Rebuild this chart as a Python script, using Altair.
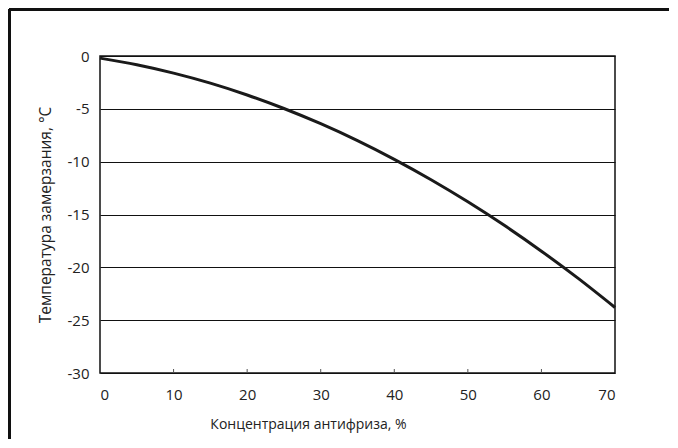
import altair as alt
import pandas as pd

# Freezing point curve
concentration = [0, 5, 10, 15, 20, 25, 30, 35, 40, 45, 50, 55, 60, 65, 70]
freeze_temp = [-0.2, -0.83, -1.62, -2.57, -3.69, -4.97, -6.41, -8.01, -9.78, -11.71, -13.8, -16.05, -18.47, -21.05, -23.8]

x_ticks = [0, 10, 20, 30, 40, 50, 60, 70]
inner_ticks = [10, 20, 30, 40, 50, 60]
y_ticks = [0, -5, -10, -15, -20, -25, -30]

x_title = "Концентрация антифриза, %"
y_title = "Температура замерзания, °C"

W, H = 515, 317
PAD = {"left": 92, "top": 48, "right": 54, "bottom": 66}
FONT = "Open Sans"

df = pd.DataFrame({"c": concentration, "t": freeze_temp})
tick_df = pd.DataFrame({"c": inner_ticks})

x_scale = alt.Scale(domain=[0, 70], nice=False)
y_scale = alt.Scale(domain=[-30, 0], nice=False)

line = alt.Chart(df).mark_line(
    color="#1a1a1a", strokeWidth=3, interpolate="monotone"
).encode(
    x=alt.X("c:Q", scale=x_scale,
            axis=alt.Axis(values=x_ticks, title=x_title, grid=False, ticks=False,
                          domain=False, labelPadding=14, titlePadding=15,
                          labelFontSize=15, titleFontSize=14, labelFont=FONT,
                          titleFont=FONT, labelColor="#222", titleColor="#222",
                          titleFontWeight="normal", titleX=208, titleAlign="center")),
    y=alt.Y("t:Q", scale=y_scale,
            axis=alt.Axis(values=y_ticks, title=y_title, grid=True, ticks=False,
                          domain=False, gridColor="#111", gridWidth=1, gridOpacity=1,
                          labelPadding=11, titlePadding=14, labelFontSize=15,
                          titleFontSize=15.5, labelFont=FONT, titleFont=FONT,
                          labelColor="#222", titleColor="#222",
                          titleFontWeight="normal",
                          labelExpr="'' + datum.value")),
)

ticks = alt.Chart(tick_df).mark_rule(color="#555", strokeWidth=1).encode(
    x=alt.X("c:Q", scale=x_scale),
    y=alt.value(H - 4),
    y2=alt.value(H),
)

border_top = alt.Chart(tick_df).mark_rule(color="#111", strokeWidth=2.5).encode(
    x=alt.value(-PAD["left"] + 1),
    x2=alt.value(W + PAD["right"]),
    y=alt.value(-PAD["top"] + 1.5),
)

border_left = alt.Chart(tick_df).mark_rule(color="#111", strokeWidth=2.5).encode(
    x=alt.value(-PAD["left"] + 1.5),
    y=alt.value(-PAD["top"] + 1),
    y2=alt.value(H + PAD["bottom"]),
)

chart = alt.layer(line, ticks, border_top, border_left).properties(
    width=W, height=H, padding=PAD, autosize="none", background="white"
).configure_view(stroke="#111", strokeWidth=1.5)

chart.save("out.html", embed_options={"renderer": "svg", "actions": False})
